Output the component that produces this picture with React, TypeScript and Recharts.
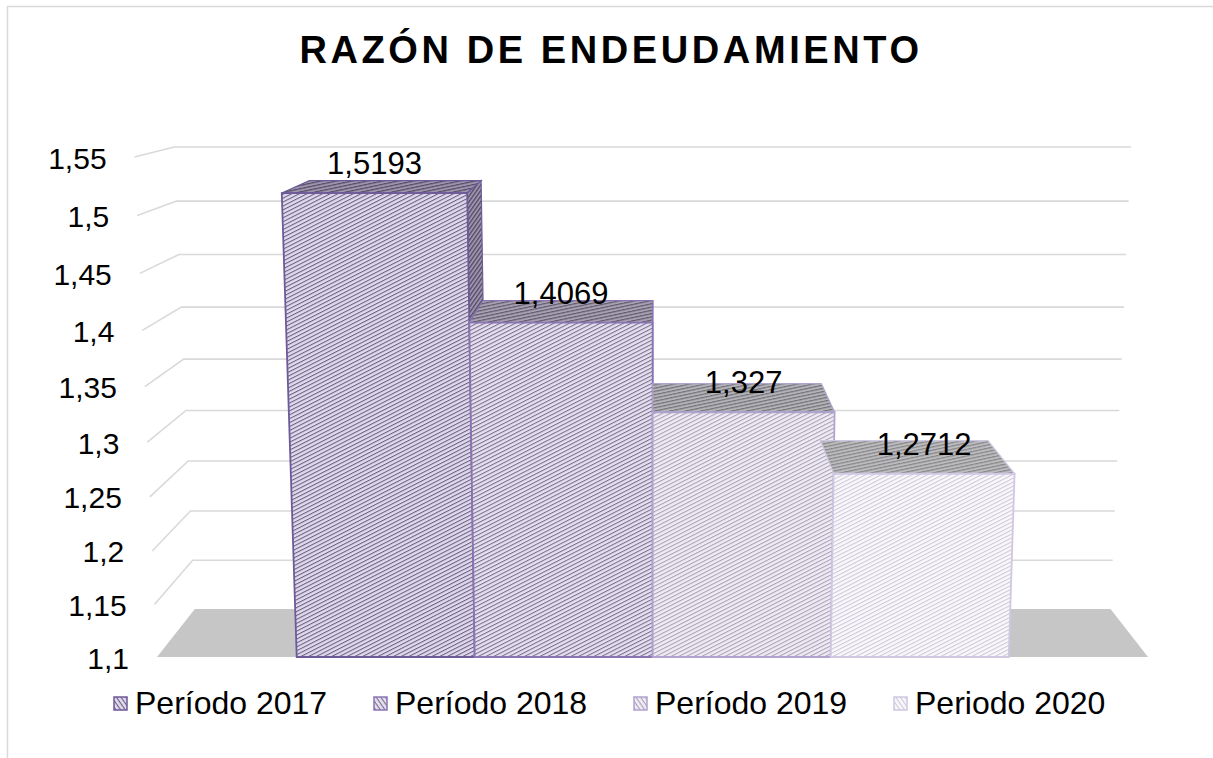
import { BarChart, Bar, XAxis, YAxis, CartesianGrid, LabelList } from "recharts";

// data
const categories = ["Razón de endeudamiento"];
const seriesKeys = ["p2017", "p2018", "p2019", "p2020"];
const seriesNames = ["Período 2017", "Período 2018", "Período 2019", "Periodo 2020"];
const seriesValues = [1.5193, 1.4069, 1.327, 1.2712];
const yTicks = [1.1, 1.15, 1.2, 1.25, 1.3, 1.35, 1.4, 1.45, 1.5, 1.55];

const data = categories.map((name) => {
  const row: any = { name };
  seriesKeys.forEach((k, i) => (row[k] = seriesValues[i]));
  return row;
});

// look
const strokes = ["#6d5a99", "#8a74b4", "#b0a3d0", "#d0c7e3"];
const frontBase = ["#e1d9ef", "#e7e0f2", "#f0ebf7", "#faf8fc"];
const frontStripe = ["#67617a", "#767088", "#a6a2b0", "#ccc8d5"];
const topBase = ["#9e94b2", "#a8a1b4", "#b4b3b8", "#bcbcbe"];
const topStripe = ["#524c60", "#5f5a6b", "#727278", "#86868a"];

const FONT = "'Liberation Sans', Arial, sans-serif";
const W = 1213;
const H = 758;
const PLOT_L = 157;
const PLOT_R = 1148;
const PLOT_T = 157;
const PLOT_B = 657;
const AXIS_W = 60;

// 3d look: vanishing point, vertical tilt, depth
const CX = 655;
const VPY = 25;
const K = 9e-5;
const C = -0.058;
const FLOOR_D = 0.076;
const BAR_D = 0.074;

function proj(xf: number, yf: number, z: number) {
  const t = (PLOT_B - yf) / (PLOT_B - PLOT_T);
  const y1 = PLOT_B - ((PLOT_B - PLOT_T) * t * (1 + C)) / (1 + C * t);
  const x1 = CX + (xf - CX) * (1 + K * (PLOT_B - y1));
  return [x1 + z * (CX - x1), y1 + z * (VPY - y1)];
}

const pts = (list: number[][]) => list.map((p) => p[0].toFixed(2) + "," + p[1].toFixed(2)).join(" ");
const fmt = (v: number) => String(v).replace(".", ",");

const gridLine = (p: any) => {
  const y = p.y1;
  if (Math.abs(y - PLOT_B) < 1) {
    return (
      <polygon
        key={p.key}
        points={pts([proj(p.x1, y, 0), proj(p.x2, y, 0), proj(p.x2, y, FLOOR_D), proj(p.x1, y, FLOOR_D)])}
        fill="#c6c6c6"
      />
    );
  }
  return (
    <polyline
      key={p.key}
      points={pts([proj(p.x1, y, 0), proj(p.x1, y, FLOOR_D), proj(p.x2, y, FLOOR_D)])}
      fill="none"
      stroke="#d9d9d9"
      strokeWidth={1.6}
    />
  );
};

const makeShape = (si: number) => (props: any) => {
  const { x, y, width, height } = props;
  if (height == null || width == null) return <g />;
  const xl = x;
  const xr = x + width;
  const yt = y;
  const yb = y + height;
  const v = seriesValues[si];
  const min = yTicks[0];
  const st = strokes[si];

  // side face toward the centre, only the part above the neighbour
  let side = null;
  const faceX = xr < CX ? xr : xl > CX ? xl : null;
  if (faceX !== null) {
    const n = xr < CX ? si + 1 : si - 1;
    let ys = yb;
    if (n >= 0 && n < seriesValues.length) {
      ys = yb - (height * (seriesValues[n] - min)) / (v - min);
    }
    if (ys > yt + 0.5) {
      side = (
        <polygon
          points={pts([proj(faceX, yt, 0), proj(faceX, yt, BAR_D), proj(faceX, ys, BAR_D), proj(faceX, ys, 0)])}
          fill={`url(#side${si})`}
          stroke={st}
          strokeWidth={1.2}
        />
      );
    }
  }

  return (
    <g>
      {side}
      <polygon
        points={pts([proj(xl, yt, 0), proj(xr, yt, 0), proj(xr, yt, BAR_D), proj(xl, yt, BAR_D)])}
        fill={`url(#top${si})`}
        stroke={st}
        strokeWidth={1.2}
      />
      <polygon
        points={pts([proj(xl, yt, 0), proj(xr, yt, 0), proj(xr, yb, 0), proj(xl, yb, 0)])}
        fill={`url(#front${si})`}
        stroke={st}
        strokeWidth={1.8}
      />
    </g>
  );
};

const renderLabel = (p: any) => {
  const { x, y, width, value } = p;
  const [lx, ly] = proj(x + width / 2, y, 0);
  return (
    <text x={lx} y={ly - 19} textAnchor="middle" fontSize={31} fontFamily={FONT} fill="#000">
      {fmt(value)}
    </text>
  );
};

const renderTick = (p: any) => {
  const [wx, wy] = proj(PLOT_L, p.y, 0);
  return (
    <text x={wx - 28} y={wy + 11.5} textAnchor="end" fontSize={30} fontFamily={FONT} fill="#000">
      {fmt(p.payload.value)}
    </text>
  );
};

function Patterns() {
  return (
    <defs>
      {seriesKeys.map((k, i) => (
        <g key={k}>
          <pattern id={`front${i}`} width={8} height={3.5} patternUnits="userSpaceOnUse" patternTransform="rotate(-27)">
            <rect width={8} height={3.5} fill={frontBase[i]} />
            <rect width={8} height={1.05} fill={frontStripe[i]} />
          </pattern>
          <pattern id={`top${i}`} width={8} height={3.2} patternUnits="userSpaceOnUse" patternTransform="rotate(-12)">
            <rect width={8} height={3.2} fill={topBase[i]} />
            <rect width={8} height={1.2} fill={topStripe[i]} />
          </pattern>
          <pattern id={`side${i}`} width={8} height={3.2} patternUnits="userSpaceOnUse" patternTransform="rotate(-55)">
            <rect width={8} height={3.2} fill={topBase[i]} />
            <rect width={8} height={1.3} fill={topStripe[i]} />
          </pattern>
          <pattern id={`leg${i}`} width={6} height={3.8} patternUnits="userSpaceOnUse" patternTransform="rotate(55)">
            <rect width={6} height={3.8} fill={frontBase[i]} />
            <rect width={6} height={1.1} fill={frontStripe[i]} />
          </pattern>
        </g>
      ))}
    </defs>
  );
}

export default function App() {
  return (
    <div style={{ position: "absolute", left: 0, top: 0, width: W, height: H, overflow: "hidden", background: "#fff" }}>
      <svg width={W} height={H} style={{ position: "absolute", left: 0, top: 0 }}>
        <Patterns />
        <rect x={7.5} y={6.5} width={W + 20} height={H + 20} fill="#fff" stroke="#d9d9d9" strokeWidth={1.5} />
        <text x={611} y={63} textAnchor="middle" fontSize={38} fontWeight="bold" letterSpacing={3.6} fontFamily={FONT} fill="#000">
          RAZÓN DE ENDEUDAMIENTO
        </text>
        {seriesNames.map((n, i) => (
          <g key={n}>
            <rect x={114 + i * 260} y={697} width={13} height={13} fill={`url(#leg${i})`} stroke={strokes[i]} strokeWidth={1.5} />
            <text x={135 + i * 260} y={714} fontSize={32} fontFamily={FONT} fill="#000">
              {n}
            </text>
          </g>
        ))}
      </svg>
      <div style={{ position: "absolute", left: 0, top: 0 }}>
        <BarChart
          width={W}
          height={H}
          data={data}
          barGap={0}
          barCategoryGap="14.1%"
          margin={{ top: PLOT_T, right: W - PLOT_R, bottom: H - PLOT_B, left: PLOT_L - AXIS_W }}
        >
          <CartesianGrid vertical={false} horizontal={gridLine} />
          <XAxis dataKey="name" hide />
          <YAxis
            width={AXIS_W}
            domain={[yTicks[0], yTicks[yTicks.length - 1]]}
            ticks={yTicks}
            interval={0}
            axisLine={false}
            tickLine={false}
            tick={renderTick}
          />
          {seriesKeys.map((k, i) => (
            <Bar key={k} dataKey={k} name={seriesNames[i]} shape={makeShape(i)} isAnimationActive={false}>
              <LabelList dataKey={k} content={renderLabel} />
            </Bar>
          ))}
        </BarChart>
      </div>
    </div>
  );
}
